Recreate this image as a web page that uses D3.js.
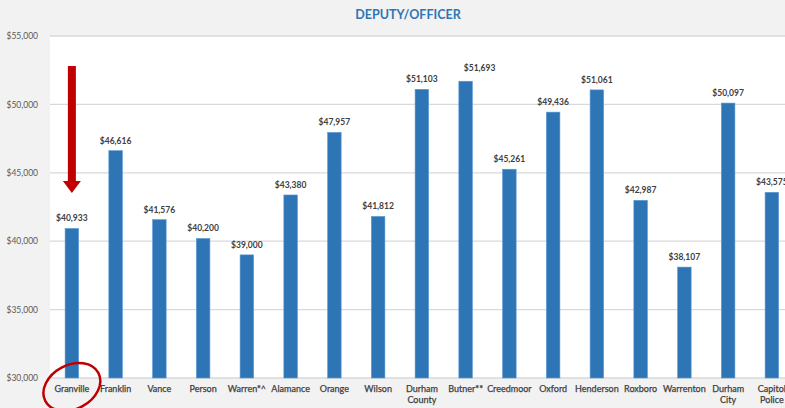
<!DOCTYPE html>
<html>
<head>
<meta charset="utf-8">
<script src="https://cdn.jsdelivr.net/npm/d3@7"></script>
<style>
html,body{margin:0;padding:0;background:#f2f2f2;}
svg{display:block;}
</style>
</head>
<body>
<svg id="chart" width="785" height="408"></svg>
<script>
const categories = ["Granville","Franklin","Vance","Person","Warren*^","Alamance","Orange","Wilson","Durham County","Butner**","Creedmoor","Oxford","Henderson","Roxboro","Warrenton","Durham City","Capitol Police"];
const values = [40933,46616,41576,40200,39000,43380,47957,41812,51103,51693,45261,49436,51061,42987,38107,50097,43575];
const yTicks = [30000,35000,40000,45000,50000,55000];
const title = "DEPUTY/OFFICER";

const W = 785, H = 408;
const plot = {left: 50, right: 50 + 17*43.75, top: 36, bottom: 378};
const font = "Lato, 'Open Sans', sans-serif";

const svg = d3.select("#chart");
svg.append("rect").attr("width", W).attr("height", H).attr("fill", "#f2f2f2");
svg.append("rect").attr("x", plot.left).attr("y", plot.top)
  .attr("width", plot.right - plot.left).attr("height", plot.bottom - plot.top).attr("fill", "#ffffff");

const x = d3.scaleBand().domain(categories).range([plot.left, plot.right]).paddingInner(0.69).paddingOuter(0.345);
const y = d3.scaleLinear().domain([30000, 55000]).range([plot.bottom, plot.top]);

// gridlines
svg.append("g").selectAll("line").data(yTicks).join("line")
  .attr("x1", plot.left).attr("x2", W)
  .attr("y1", d => y(d)).attr("y2", d => y(d))
  .attr("stroke", "#d9d9d9").attr("stroke-width", 1.3);

// y axis labels
const yAxis = d3.axisLeft(y).tickValues(yTicks).tickSize(0).tickPadding(0)
  .tickFormat(d => "$" + d3.format(",")(d));
const ya = svg.append("g").attr("transform", `translate(38,0)`).call(yAxis);
ya.select(".domain").remove();
ya.selectAll("text").attr("font-family", font).attr("font-size", 8.5).attr("fill", "#595959");

// bars
svg.append("g").selectAll("rect").data(values).join("rect")
  .attr("x", (d, i) => x(categories[i]))
  .attr("width", x.bandwidth())
  .attr("y", d => y(d))
  .attr("height", d => y(30000) - y(d))
  .attr("fill", "#2e75b6")
  .attr("stroke", "#5b9bd5").attr("stroke-width", 0.6);

// value labels
svg.append("g").selectAll("text").data(values).join("text")
  .attr("x", (d, i) => x(categories[i]) + x.bandwidth()/2 + (categories[i] === "Butner**" ? 14 : 0))
  .attr("y", (d, i) => y(d) - (categories[i] === "Butner**" ? 10 : 7))
  .attr("text-anchor", "middle")
  .attr("font-family", font).attr("font-size", 8.5).attr("font-weight", "bold")
  .attr("fill", "#404040")
  .text(d => "$" + d3.format(",")(d));

// category labels
const xAxis = d3.axisBottom(x).tickSize(0).tickPadding(0);
const xa = svg.append("g").attr("transform", `translate(0,${plot.bottom})`).call(xAxis);
xa.select(".domain").remove();
xa.selectAll("text").each(function(d) {
  const t = d3.select(this);
  t.text(null).attr("y", 0).attr("dy", null)
    .attr("font-family", font).attr("font-size", 9).attr("font-weight", "normal").attr("fill", "#404040")
    .attr("stroke", "#404040").attr("stroke-width", 0.25);
  const words = d.split(" ");
  const lines = (words.length === 2 && ["Durham County","Durham City","Capitol Police"].includes(d)) ? words : [d];
  lines.forEach((w, i) => t.append("tspan").attr("x", 0).attr("y", 14 + i * 11).text(w));
});

// title
svg.append("text").attr("x", 408).attr("y", 19).attr("text-anchor", "middle")
  .attr("font-family", font).attr("font-size", 12.5).attr("font-weight", "bold")
  .attr("fill", "#2e75b6").text(title);

// red arrow annotation
const ax = x(categories[0]) + x.bandwidth()/2;
svg.append("rect").attr("x", ax - 4).attr("y", 66).attr("width", 8).attr("height", 116).attr("fill", "#c00000");
svg.append("path").attr("d", `M${ax-9},181 L${ax+9},181 L${ax},193 Z`).attr("fill", "#c00000");

// red ellipse around Granville
svg.append("ellipse").attr("cx", 0).attr("cy", 0).attr("rx", 30).attr("ry", 22)
  .attr("transform", `translate(${ax},387) rotate(-28)`)
  .attr("fill", "none").attr("stroke", "#c00000").attr("stroke-width", 2.5);
</script>
</body>
</html>
